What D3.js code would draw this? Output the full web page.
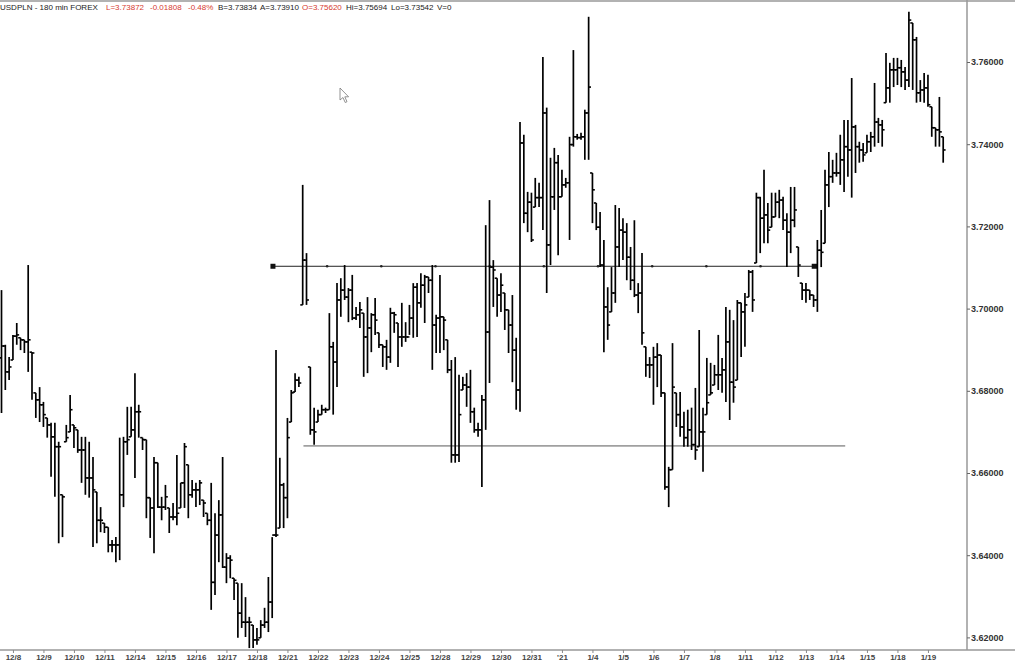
<!DOCTYPE html>
<html><head><meta charset="utf-8">
<script src="https://cdn.jsdelivr.net/npm/d3@7"></script>
<style>html,body{margin:0;padding:0;background:#fff;}svg{display:block;}</style>
</head><body><svg id="c" width="1015" height="664"></svg>
<script>
// ---- data (USDPLN, 180-min bars) ----
const highs = [
3.7045,3.6912,3.6882,3.6936,3.6965,3.6929,3.6924,3.7106,3.6894,3.6795,
3.6809,3.6773,3.6734,3.6722,3.6722,3.6676,3.6547,3.6717,3.6790,3.6717,
3.6705,3.6688,3.6688,3.6676,3.6639,3.6554,3.6517,3.6478,3.6468,3.6437,
3.6444,3.6686,3.6688,3.6761,3.6761,3.6843,3.6766,3.6686,3.6681,3.6540,
3.6639,3.6625,3.6542,3.6571,3.6515,3.6527,3.6644,3.6576,3.6673,3.6620,
3.6583,3.6576,3.6583,3.6534,3.6502,3.6576,3.6502,3.6534,3.6639,3.6405,
3.6400,3.6344,3.6332,3.6332,3.6298,3.6250,3.6230,3.6223,3.6242,3.6272,
3.6347,3.6444,3.6899,3.6637,3.6576,3.6734,3.6802,3.6843,3.6834,3.7301,
3.7135,3.6858,3.6759,3.6754,3.6766,3.6759,3.6989,3.6919,3.7062,3.7074,
3.7106,3.7050,3.7082,3.7004,3.7016,3.6989,3.7028,3.6989,3.7026,3.6941,
3.6912,3.6924,3.7002,3.6992,3.6965,3.7014,3.6967,3.7009,3.7062,3.7062,
3.7086,3.7082,3.7077,3.7106,3.6985,3.7082,3.6980,3.6924,3.6875,3.6882,
3.6839,3.6834,3.6843,3.6851,3.6759,3.6722,3.6790,3.7203,3.7264,3.7118,
3.7074,3.7086,3.7038,3.6997,3.7033,3.6929,3.7454,3.7423,3.7284,3.7282,
3.7318,3.7306,3.7612,3.7489,3.7367,3.7391,3.7374,3.7338,3.7318,3.7418,
3.7629,3.7425,3.7428,3.7484,3.7710,3.7330,3.7257,3.7235,3.7167,3.7052,
3.7101,3.7252,3.7245,3.7220,3.7208,3.7150,3.7215,3.7062,3.7135,3.6907,
3.6882,3.6907,3.6916,3.6887,3.6795,3.6615,3.6916,3.6795,3.6797,3.6749,
3.6754,3.6759,3.6807,3.6948,3.6759,3.6880,3.6868,3.6863,3.6936,3.6880,
3.7004,3.6997,3.6972,3.7021,3.7014,3.7038,3.7094,3.7094,3.7282,3.7272,
3.7338,3.7257,3.7282,3.7282,3.7289,3.7272,3.7232,3.7296,3.7296,3.7150,
3.7062,3.7062,3.7045,3.7033,3.7167,3.7240,3.7338,3.7381,3.7362,3.7379,
3.7423,3.7459,3.7459,3.7561,3.7447,3.7406,3.7403,3.7423,3.7430,3.7549,
3.7464,3.7459,3.7622,3.7598,3.7610,3.7610,3.7605,3.7588,3.7722,3.7695,
3.7661,3.7556,3.7573,3.7569,3.7491,3.7440,3.7515,3.7418];
const lows = [
3.6746,3.6802,3.6826,3.6875,3.6912,3.6899,3.6892,3.6846,3.6778,3.6734,
3.6724,3.6712,3.6686,3.6591,3.6542,3.6429,3.6444,3.6676,3.6700,3.6661,
3.6649,3.6576,3.6547,3.6540,3.6420,3.6429,3.6456,3.6454,3.6407,3.6407,
3.6383,3.6388,3.6517,3.6644,3.6688,3.6588,3.6686,3.6656,3.6490,3.6442,
3.6405,3.6515,3.6485,3.6510,3.6454,3.6485,3.6473,3.6515,3.6515,3.6490,
3.6540,3.6517,3.6522,3.6493,3.6473,3.6267,3.6303,3.6383,3.6369,3.6332,
3.6344,3.6291,3.6199,3.6223,3.6201,3.6174,3.6174,3.6182,3.6199,3.6223,
3.6213,3.6247,3.6444,3.6466,3.6466,3.6490,3.6724,3.6797,3.6809,3.7009,
3.7009,3.6693,3.6669,3.6724,3.6742,3.6746,3.6754,3.6742,3.6809,3.6980,
3.7021,3.6967,3.6972,3.6972,3.6953,3.6834,3.6843,3.6894,3.6936,3.6904,
3.6858,3.6851,3.6868,3.6941,3.6858,3.6907,3.6919,3.6936,3.6929,3.6931,
3.7002,3.6965,3.7038,3.6851,3.6892,3.6892,3.6899,3.6843,3.6625,3.6625,
3.6627,3.6802,3.6761,3.6722,3.6698,3.6688,3.6566,3.6705,3.6819,3.7004,
3.6980,3.6992,3.6948,3.6892,3.6821,3.6754,3.6749,3.7208,3.7186,3.7162,
3.7247,3.7247,3.7191,3.7038,3.7106,3.7240,3.7130,3.7272,3.7294,3.7167,
3.7394,3.7411,3.7411,3.7362,3.7362,3.7208,3.7191,3.7101,3.6894,3.6924,
3.6992,3.7014,3.7101,3.7118,3.7069,3.7045,3.7028,3.6989,3.6912,3.6834,
3.6831,3.6766,3.6809,3.6785,3.6559,3.6517,3.6608,3.6712,3.6688,3.6664,
3.6664,3.6656,3.6632,3.6664,3.6603,3.6742,3.6790,3.6814,3.6802,3.6795,
3.6773,3.6729,3.6771,3.6826,3.6882,3.6907,3.7028,3.6992,3.7111,3.7135,
3.7159,3.7159,3.7198,3.7223,3.7220,3.7191,3.7101,3.7135,3.7198,3.7077,
3.7021,3.7014,3.7021,3.7004,3.6992,3.7101,3.7159,3.7247,3.7306,3.7321,
3.7301,3.7284,3.7321,3.7270,3.7330,3.7355,3.7357,3.7379,3.7381,3.7394,
3.7403,3.7394,3.7501,3.7501,3.7539,3.7544,3.7539,3.7532,3.7539,3.7532,
3.7501,3.7503,3.7501,3.7491,3.7418,3.7394,3.7394,3.7355];
const opens = [
3.6880,3.6909,3.6846,3.6875,3.6933,3.6929,3.6924,3.6919,3.6894,3.6795,
3.6778,3.6766,3.6734,3.6717,3.6688,3.6664,3.6547,3.6676,3.6700,3.6717,
3.6705,3.6656,3.6656,3.6588,3.6588,3.6554,3.6485,3.6478,3.6468,3.6425,
3.6425,3.6425,3.6547,3.6676,3.6688,3.6705,3.6749,3.6686,3.6681,3.6540,
3.6515,3.6625,3.6517,3.6517,3.6515,3.6493,3.6493,3.6515,3.6576,3.6620,
3.6547,3.6559,3.6559,3.6534,3.6502,3.6485,3.6334,3.6449,3.6498,3.6371,
3.6393,3.6344,3.6332,3.6259,3.6237,3.6237,3.6230,3.6194,3.6199,3.6230,
3.6237,3.6286,3.6449,3.6466,3.6571,3.6540,3.6724,3.6797,3.6826,3.7009,
3.7118,3.6858,3.6705,3.6724,3.6742,3.6754,3.6754,3.6907,3.6870,3.7021,
3.7045,3.7028,3.7045,3.6977,3.6985,3.6989,3.6931,3.6953,3.6985,3.6941,
3.6912,3.6907,3.6882,3.6989,3.6965,3.6931,3.6931,3.6931,3.6977,3.7052,
3.7014,3.7057,3.7077,3.7069,3.6960,3.6977,3.6980,3.6924,3.6851,3.6644,
3.6644,3.6802,3.6814,3.6809,3.6749,3.6705,3.6705,3.6778,3.6943,3.7101,
3.7074,3.7033,3.7038,3.6997,3.6960,3.6899,3.6802,3.7403,3.7232,3.7259,
3.7247,3.7270,3.7270,3.7476,3.7155,3.7272,3.7355,3.7272,3.7301,3.7306,
3.7399,3.7418,3.7416,3.7418,3.7476,3.7330,3.7257,3.7198,3.7106,3.7004,
3.6992,3.7038,3.7150,3.7191,3.7186,3.7125,3.7069,3.7033,3.7038,3.6907,
3.6863,3.6863,3.6882,3.6887,3.6795,3.6566,3.6608,3.6795,3.6742,3.6712,
3.6686,3.6705,3.6669,3.6664,3.6700,3.6742,3.6790,3.6814,3.6839,3.6839,
3.6851,3.6919,3.6821,3.6826,3.7014,3.6992,3.7028,3.7089,3.7111,3.7270,
3.7220,3.7228,3.7198,3.7223,3.7259,3.7264,3.7215,3.7186,3.7215,3.7150,
3.7062,3.7045,3.7045,3.7033,3.7021,3.7142,3.7159,3.7301,3.7321,3.7330,
3.7330,3.7362,3.7394,3.7386,3.7442,3.7394,3.7386,3.7379,3.7406,3.7418,
3.7454,3.7447,3.7501,3.7537,3.7581,3.7581,3.7586,3.7576,3.7556,3.7695,
3.7654,3.7525,3.7532,3.7537,3.7491,3.7440,3.7435,3.7418];
const closes = [
3.6909,3.6846,3.6858,3.6933,3.6936,3.6924,3.6919,3.6924,3.6892,3.6778,
3.6766,3.6742,3.6717,3.6688,3.6664,3.6664,3.6542,3.6686,3.6754,3.6710,
3.6656,3.6656,3.6588,3.6588,3.6559,3.6485,3.6485,3.6468,3.6425,3.6425,
3.6425,3.6547,3.6676,3.6681,3.6705,3.6749,3.6749,3.6681,3.6540,3.6515,
3.6625,3.6517,3.6517,3.6542,3.6493,3.6493,3.6502,3.6576,3.6664,3.6547,
3.6559,3.6559,3.6576,3.6527,3.6485,3.6334,3.6449,3.6498,3.6371,3.6393,
3.6388,3.6339,3.6259,3.6237,3.6237,3.6237,3.6194,3.6194,3.6230,3.6237,
3.6286,3.6449,3.6449,3.6571,3.6540,3.6686,3.6795,3.6826,3.6819,3.7118,
3.7021,3.6705,3.6700,3.6742,3.6754,3.6754,3.6907,3.6870,3.7021,3.7045,
3.7028,3.7045,3.6977,3.6985,3.6997,3.6931,3.6953,3.6985,3.6972,3.6912,
3.6907,3.6882,3.6989,3.6985,3.6931,3.6931,3.6931,3.6977,3.7052,3.7014,
3.7057,3.7077,3.7069,3.6960,3.6977,3.6980,3.6972,3.6851,3.6644,3.6644,
3.6742,3.6814,3.6809,3.6749,3.6705,3.6705,3.6778,3.6943,3.7101,3.7094,
3.7033,3.7057,3.6997,3.6960,3.6899,3.6802,3.7403,3.7232,3.7259,3.7167,
3.7270,3.7270,3.7476,3.7155,3.7272,3.7355,3.7272,3.7301,3.7306,3.7399,
3.7418,3.7416,3.7418,3.7476,3.7539,3.7289,3.7198,3.7106,3.7004,3.6960,
3.7038,3.7150,3.7191,3.7186,3.7125,3.7069,3.7033,3.7038,3.6941,3.6863,
3.6863,3.6882,3.6887,3.6795,3.6566,3.6608,3.6809,3.6742,3.6712,3.6686,
3.6705,3.6669,3.6656,3.6700,3.6700,3.6771,3.6795,3.6839,3.6839,3.6851,
3.6919,3.6821,3.6809,3.7014,3.6992,3.7009,3.7089,3.7021,3.7270,3.7220,
3.7228,3.7191,3.7223,3.7259,3.7264,3.7215,3.7186,3.7215,3.7240,3.7106,
3.7045,3.7045,3.7033,3.7021,3.7142,3.7137,3.7301,3.7321,3.7330,3.7330,
3.7362,3.7394,3.7386,3.7442,3.7394,3.7386,3.7374,3.7406,3.7418,3.7454,
3.7447,3.7435,3.7537,3.7581,3.7581,3.7586,3.7576,3.7556,3.7702,3.7654,
3.7525,3.7532,3.7537,3.7496,3.7440,3.7435,3.7430,3.7386];

const dayLabels = ['12/8','12/9','12/10','12/11','12/14','12/15','12/16','12/17','12/18','12/21',
 '12/22','12/23','12/24','12/25','12/28','12/29','12/30','12/31',"'21",'1/4','1/5','1/6','1/7','1/8',
 '1/11','1/12','1/13','1/14','1/15','1/18','1/19'];
const dayStartBar = [3,11,19,27,35,43,51,59,67,75,83,91,99,107,115,123,131,139,147,155,163,171,179,187,195,203,211,219,227,235,243];
const priceTicks = [3.62,3.64,3.66,3.68,3.70,3.72,3.74,3.76];

// trend lines: level, first bar, last bar
const resistance = {value: 3.7103, from: 71.2, to: 213.3};
const support = {value: 3.6666, from: 79.2, to: 221.3};

const header = [
 {t:'USDPLN - 180 min  FOREX', x:0, red:false},
 {t:'L=3.73872', x:106, red:true},
 {t:'-0.01808', x:150, red:true},
 {t:'-0.48%', x:188, red:true},
 {t:'B=3.73834', x:218, red:false},
 {t:'A=3.73910', x:260, red:false},
 {t:'O=3.75620', x:302, red:true},
 {t:'Hi=3.75694', x:346, red:false},
 {t:'Lo=3.73542', x:391, red:false},
 {t:'V=0', x:437, red:false}
];

// ---- drawing ----
const svg = d3.select('#c');
const W = 1015, H = 664, axisX = 967, axisY = 650;
svg.append('rect').attr('width',W).attr('height',H).attr('fill','#fff');

const bars = highs.map((h,i)=>({i, h, l:lows[i], o:opens[i], c:closes[i]}));
const x = d3.scaleLinear().domain([0, 247]).range([1.5, 943.2]);
const y = d3.scaleLinear().domain([3.62, 3.76]).range([637.4, 62]);

// frame
svg.append('line').attr('x1',0).attr('x2',W).attr('y1',1).attr('y2',1).attr('stroke','#999').attr('stroke-width',1.5);
svg.append('line').attr('x1',axisX).attr('x2',axisX).attr('y1',0).attr('y2',axisY).attr('stroke','#999').attr('stroke-width',1.5);
svg.append('line').attr('x1',0).attr('x2',W).attr('y1',axisY).attr('y2',axisY).attr('stroke','#999').attr('stroke-width',1.5);

// y axis (right)
const yAxis = d3.axisRight(y).tickValues(priceTicks).tickFormat(d3.format('.5f')).tickSize(3).tickPadding(1);
const ga = svg.append('g').attr('transform',`translate(${axisX},0)`).call(yAxis);
ga.select('.domain').remove();
ga.selectAll('line').attr('stroke','#666');
ga.selectAll('text').attr('font-family','Liberation Sans, Arial, sans-serif').attr('font-size',9).attr('fill','#333').attr('font-weight','bold');

// x axis (bottom)
const xAxis = d3.axisBottom(x).tickValues(dayStartBar).tickFormat((d,i)=>dayLabels[i]).tickSize(3).tickPadding(1);
const gx = svg.append('g').attr('transform',`translate(0,${axisY})`).call(xAxis);
gx.select('.domain').remove();
gx.selectAll('line').attr('stroke','#888');
gx.selectAll('text').attr('font-family','Liberation Sans, Arial, sans-serif').attr('font-size',8).attr('fill','#444').attr('font-weight','bold');

// support line (grey)
svg.append('line').attr('x1',x(support.from)).attr('x2',x(support.to))
  .attr('y1',y(support.value)).attr('y2',y(support.value)).attr('stroke','#a0a0a0').attr('stroke-width',1.6);

// resistance line (black with handle dots)
const ry = y(resistance.value), rx1 = x(resistance.from), rx2 = x(resistance.to);
svg.append('line').attr('x1',rx1).attr('x2',rx2).attr('y1',ry).attr('y2',ry).attr('stroke','#222').attr('stroke-width',1);
svg.append('g').selectAll('circle').data(d3.range(1,10)).join('circle')
  .attr('cx',k=>rx1+(rx2-rx1)*k/10).attr('cy',ry).attr('r',1.3).attr('fill','#222');
svg.append('rect').attr('x',rx1-2.5).attr('y',ry-2.5).attr('width',5).attr('height',5).attr('fill','#111');
svg.append('rect').attr('x',rx2-3).attr('y',ry-2.5).attr('width',6).attr('height',5).attr('fill','#111');

// OHLC bars
const gb = svg.append('g').attr('stroke','#000');
gb.selectAll('line.v').data(bars).join('line').attr('class','v').attr('stroke-width',1.7)
  .attr('x1',d=>x(d.i)).attr('x2',d=>x(d.i)).attr('y1',d=>y(d.h)).attr('y2',d=>y(d.l));
gb.selectAll('line.o').data(bars).join('line').attr('class','o').attr('stroke-width',1.6)
  .attr('x1',d=>x(d.i)-2.4).attr('x2',d=>x(d.i)).attr('y1',d=>y(d.o)).attr('y2',d=>y(d.o));
gb.selectAll('line.c').data(bars).join('line').attr('class','c').attr('stroke-width',1.6)
  .attr('x1',d=>x(d.i)).attr('x2',d=>x(d.i)+2.4).attr('y1',d=>y(d.c)).attr('y2',d=>y(d.c));

// header
svg.append('g').selectAll('text').data(header).join('text')
  .attr('x',d=>d.x).attr('y',10).text(d=>d.t)
  .attr('font-family','Liberation Sans, Arial, sans-serif').attr('font-size',8)
  .attr('fill',d=>d.red?'#d63a2f':'#222');

// mouse pointer
svg.append('path').attr('d','M340,88 L340,100 L343,97.5 L345.2,102.5 L347,101.7 L344.8,96.8 L348.6,96.8 Z')
  .attr('fill','#fff').attr('stroke','#777').attr('stroke-width',0.8);
</script>
</body></html>
